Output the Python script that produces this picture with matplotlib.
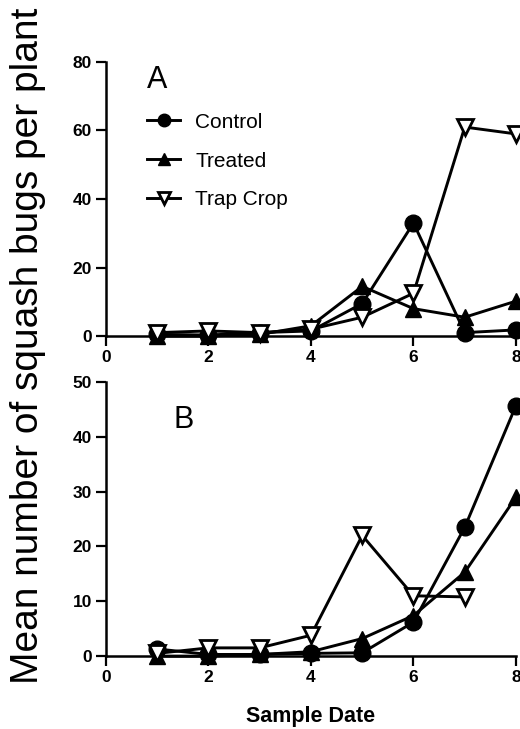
import matplotlib.pyplot as plt

plt.rcParams["font.family"] = ["Liberation Sans", "DejaVu Sans"]

dates = [1, 2, 3, 4, 5, 6, 7, 8]

# panel A
a_control = [0.5, 0.3, 1.0, 1.5, 9.5, 33.0, 1.0, 1.8]
a_treated = [0.0, 0.0, 0.5, 3.0, 14.5, 8.0, 5.5, 10.2]
a_trap = [1.0, 1.5, 1.0, 2.0, 5.5, 12.5, 61.0, 59.0]

# panel B (trap crop has no value on date 8)
b_control = [1.3, 0.3, 0.3, 0.5, 0.6, 6.2, 23.5, 45.7]
b_treated = [0.0, 0.0, 0.3, 0.8, 3.2, 7.4, 15.3, 29.0]
b_trap_dates = [1, 2, 3, 4, 5, 6, 7]
b_trap = [0.5, 1.5, 1.5, 3.8, 22.0, 11.0, 10.8]

a_yticks = [0, 20, 40, 60, 80]
b_yticks = [0, 10, 20, 30, 40, 50]
xticks = [0, 2, 4, 6, 8]

LW = 2.1
MS = 12


def draw(ax, x_ctrl, y_ctrl, x_trt, y_trt, x_trap, y_trap):
    ax.plot(x_ctrl, y_ctrl, "-o", color="black", lw=LW, ms=MS, clip_on=False,
            label="Control", zorder=3)
    ax.plot(x_trt, y_trt, "-^", color="black", lw=LW, ms=MS, clip_on=False,
            label="Treated", zorder=3)
    ax.plot(x_trap, y_trap, "-v", color="black", lw=LW, ms=11, mfc="white",
            mew=2.0, clip_on=False, label="Trap Crop", zorder=4)
    for side in ("top", "right"):
        ax.spines[side].set_visible(False)
    for side in ("left", "bottom"):
        ax.spines[side].set_linewidth(1.8)
    ax.tick_params(width=1.6, length=7, pad=3, labelsize=12.5)
    ax.set_xlim(0, 8)
    ax.set_xticks(xticks)


fig = plt.figure(figsize=(5.2, 7.29), dpi=100)
ax1 = fig.add_axes([0.2038, 0.539, 0.7885, 0.376])
ax2 = fig.add_axes([0.2038, 0.100, 0.7885, 0.376])

ax1.set_ylim(0, 80)
ax1.set_yticks(a_yticks)
draw(ax1, dates, a_control, dates, a_treated, dates, a_trap)
ax2.set_ylim(0, 50)
ax2.set_yticks(b_yticks)
draw(ax2, dates, b_control, dates, b_treated, b_trap_dates, b_trap)

for ax in (ax1, ax2):
    for lab in ax.get_xticklabels() + ax.get_yticklabels():
        lab.set_fontweight("bold")

ax1.text(0.125, 0.935, "A", transform=ax1.transAxes, fontsize=22,
         ha="center", va="center")
ax2.text(0.19, 0.86, "B", transform=ax2.transAxes, fontsize=22,
         ha="center", va="center")

leg = ax1.legend(loc="upper left", bbox_to_anchor=(0.08, 0.845), frameon=False,
                 fontsize=15, markerscale=0.75, handlelength=1.6,
                 handletextpad=0.7, labelspacing=0.95, borderaxespad=0)

ax2.set_xlabel("Sample Date", fontsize=15.5, fontweight="bold", labelpad=15)
fig.text(0.053, 0.525, "Mean number of squash bugs per plant", rotation=90,
         fontsize=28, ha="center", va="center")

fig.savefig("out.png", dpi=100)
